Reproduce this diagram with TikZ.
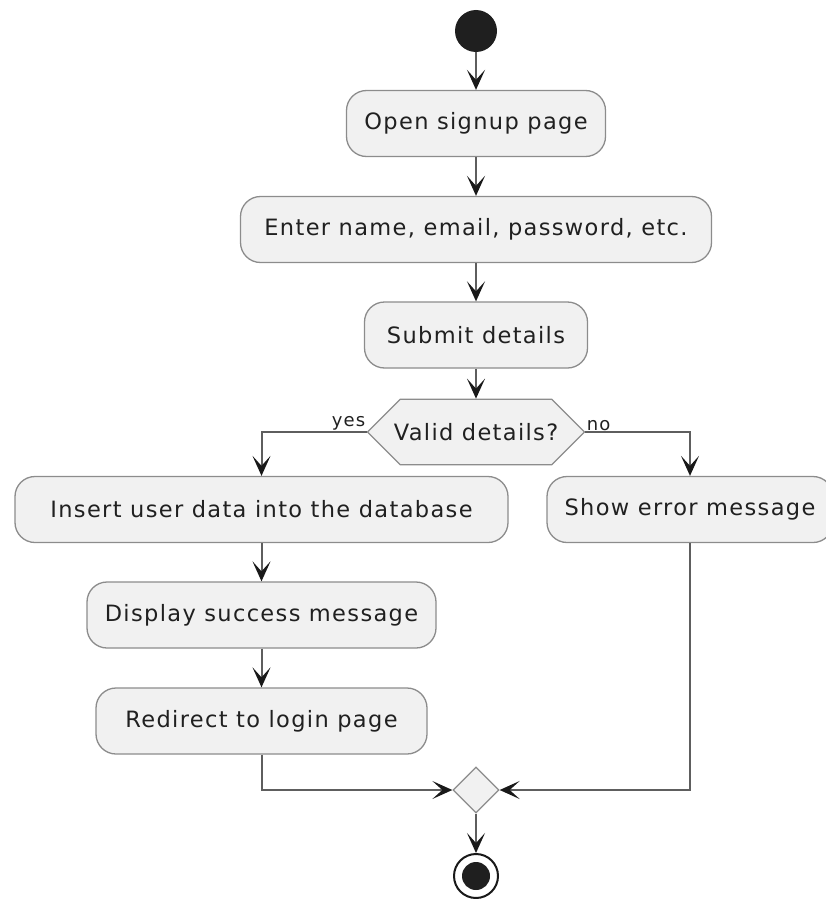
\documentclass[tikz,border=0pt]{standalone}
\usepackage{fontspec}
\setmainfont{DejaVu Sans}[LetterSpace=6]
\usetikzlibrary{arrows.meta,shapes.geometric,shapes.misc}
\definecolor{boxfill}{HTML}{F1F1F1}
\definecolor{boxline}{HTML}{8C8C8C}
\definecolor{wire}{HTML}{5E5E5E}
\definecolor{txt}{HTML}{202020}
\begin{document}
\begin{tikzpicture}[x=1pt, y=-1pt,
  action/.style={draw=boxline, fill=boxfill, line width=1.3pt, rounded corners=20pt,
    minimum height=66pt, inner sep=0pt, text=txt, font=\fontsize{22.5}{27}\selectfont},
  flow/.style={draw=wire, line width=2pt,
    -{Stealth[length=20pt, width=18pt, inset=10pt, color=black!90]}},
  guard/.style={font=\fontsize{18}{20}\selectfont, text=txt, inner sep=1.5pt}]
  \useasboundingbox (0,0) rectangle (826,899);
  \node[circle, fill=black!88, minimum size=42pt, inner sep=0pt] (start) at (476,31) {};
  \node[action, minimum width=259pt] (open)   at (476,123.5) {Open signup page};
  \node[action, minimum width=471pt] (enter)  at (476,229.5) {Enter name, email, password, etc.};
  \node[action, minimum width=223pt] (submit) at (476,335)   {Submit details};
  \node[chamfered rectangle, chamfered rectangle xsep=15pt, chamfered rectangle ysep=24pt,
    draw=boxline, fill=boxfill, line width=1.3pt, minimum width=217pt, minimum height=48pt,
    inner sep=0pt, text=txt, font=\fontsize{22.5}{27}\selectfont] (valid) at (476,432) {Valid details?};
  \node[action, minimum width=493pt] (insert)   at (261.5,509.5) {Insert user data into the database};
  \node[action, minimum width=286pt] (error)    at (690,509.5)   {Show error message};
  \node[action, minimum width=349pt] (display)  at (261.5,615)   {Display success message};
  \node[action, minimum width=331pt] (redirect) at (261.5,721)   {Redirect to login page};
  \node[diamond, draw=boxline, fill=boxfill, line width=1.3pt, minimum width=46pt,
    minimum height=46pt, inner sep=0pt] (merge) at (476,790) {};
  \node[circle, draw=black!90, line width=2pt, fill=white, minimum size=44pt, inner sep=0pt] (stop) at (476,876) {};
  \fill[black!88] (stop.center) circle[radius=14pt];
  \node[guard, anchor=south east] (yes) at (valid.west) {yes};
  \node[guard, anchor=south west] (no)  at (valid.east) {no};
  % connectors
  \draw[flow] (start) -- (open);
  \draw[flow] (open) -- (enter);
  \draw[flow] (enter) -- (submit);
  \draw[flow] (submit) -- (valid);
  \draw[flow] (valid.west) -| (insert.north);
  \draw[flow] (valid.east) -| (error.north);
  \draw[flow] (insert) -- (display);
  \draw[flow] (display) -- (redirect);
  \draw[flow] (redirect.south) |- (merge.west);
  \draw[flow] (error.south) |- (merge.east);
  \draw[flow] (merge) -- (stop);
\end{tikzpicture}
\end{document}
